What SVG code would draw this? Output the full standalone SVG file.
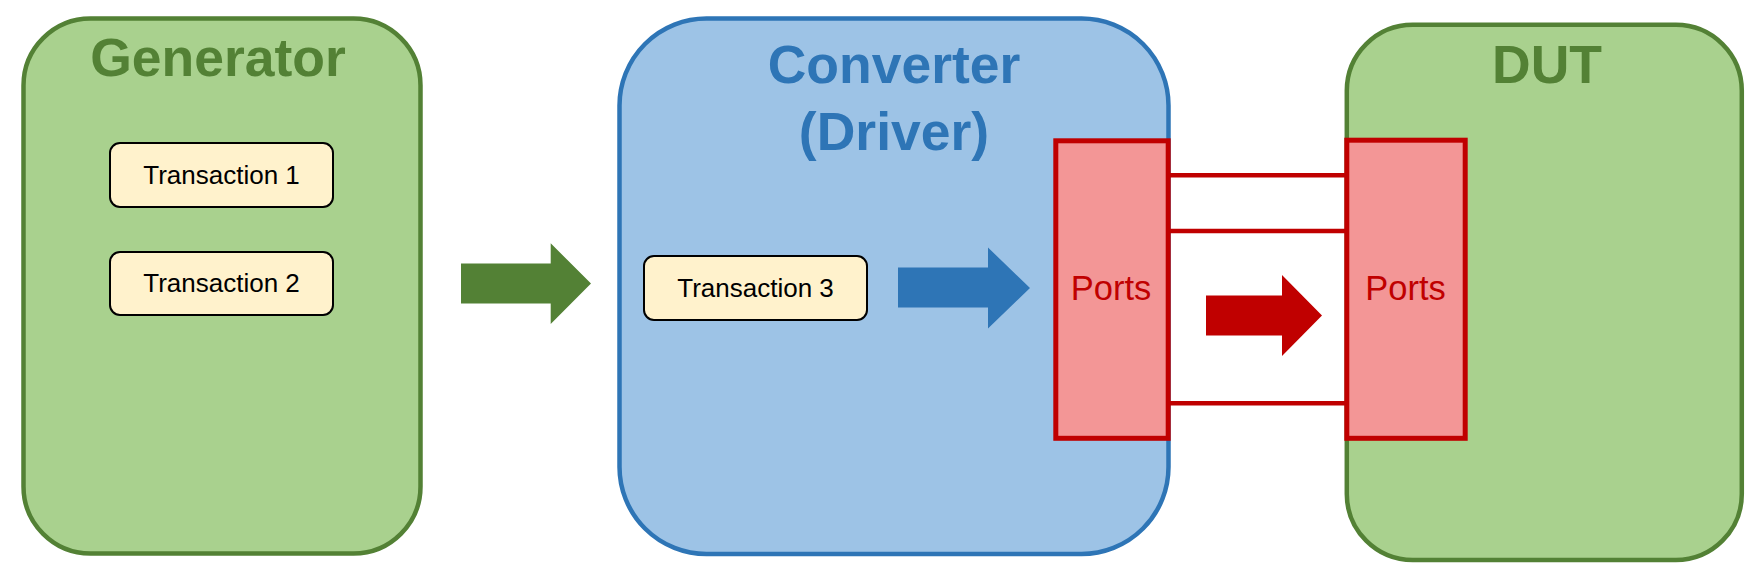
<svg xmlns="http://www.w3.org/2000/svg" width="1763" height="584" viewBox="0 0 1763 584">
  <style>
    .green { fill: #a9d18e; stroke: #538135; stroke-width: 4.5; }
    .blue { fill: #9dc3e6; stroke: #2e75b6; stroke-width: 4.5; }
    .port { fill: #f39696; stroke: #c00000; stroke-width: 5; }
    .tx { fill: #fff2cc; stroke: #000000; stroke-width: 2; }
    .title { font-family: "Liberation Sans", Arial, sans-serif; font-weight: bold; font-size: 53.5px; text-anchor: middle; }
    .txt { font-family: "Liberation Sans", Arial, sans-serif; font-size: 26px; text-anchor: middle; fill: #000000; }
    .ptxt { font-family: "Liberation Sans", Arial, sans-serif; font-size: 34.5px; text-anchor: middle; fill: #c00000; }
    .wire { stroke: #c00000; stroke-width: 4.5; fill: none; }
  </style>
  <rect width="1763" height="584" fill="#ffffff"/>

  <g id="generator">
    <rect class="green" x="23.5" y="18.5" width="397" height="535" rx="67" ry="67"/>
    <text class="title" x="218" y="75.5" fill="#538135">Generator</text>
  </g>
  <g id="transaction1">
    <rect class="tx" x="110" y="143" width="223" height="64" rx="10" ry="10"/>
    <text class="txt" x="221.5" y="183.5">Transaction 1</text>
  </g>
  <g id="transaction2">
    <rect class="tx" x="110" y="252" width="223" height="63" rx="10" ry="10"/>
    <text class="txt" x="221.5" y="292">Transaction 2</text>
  </g>

  <g id="converter">
    <rect class="blue" x="619.5" y="18.5" width="549" height="535.5" rx="87" ry="87"/>
    <text class="title" x="894" y="82.5" fill="#2e75b6">Converter</text>
    <text class="title" x="894" y="150" fill="#2e75b6">(Driver)</text>
  </g>
  <g id="transaction3">
    <rect class="tx" x="644" y="256" width="223" height="64" rx="10" ry="10"/>
    <text class="txt" x="755.5" y="296.5">Transaction 3</text>
  </g>

  <g id="dut">
    <rect class="green" x="1346.8" y="24.8" width="395" height="535.2" rx="66" ry="66"/>
    <text class="title" x="1547" y="83.3" fill="#538135">DUT</text>
  </g>

  <g id="connectors">
    <line class="wire" x1="1168" y1="175.3" x2="1347" y2="175.3"/>
    <line class="wire" x1="1168" y1="231" x2="1347" y2="231"/>
    <line class="wire" x1="1168" y1="403.3" x2="1347" y2="403.3"/>
    <polygon fill="#538135" points="461,263.5 550.7,263.5 550.7,243.3 591,283.5 550.7,324 550.7,303.5 461,303.5"/>
    <polygon fill="#2e75b6" points="898,267.5 988,267.5 988,247.5 1030,288 988,328.5 988,307.5 898,307.5"/>
    <polygon fill="#c00000" points="1206,295.5 1282,295.5 1282,275 1322,315.5 1282,356 1282,335.5 1206,335.5"/>
  </g>

  <g id="ports-converter">
    <rect class="port" x="1055.8" y="140.8" width="112.4" height="297.5"/>
    <text class="ptxt" x="1111" y="300">Ports</text>
  </g>
  <g id="ports-dut">
    <rect class="port" x="1346.8" y="140.2" width="118.4" height="298.1"/>
    <text class="ptxt" x="1405.5" y="300">Ports</text>
  </g>
</svg>
